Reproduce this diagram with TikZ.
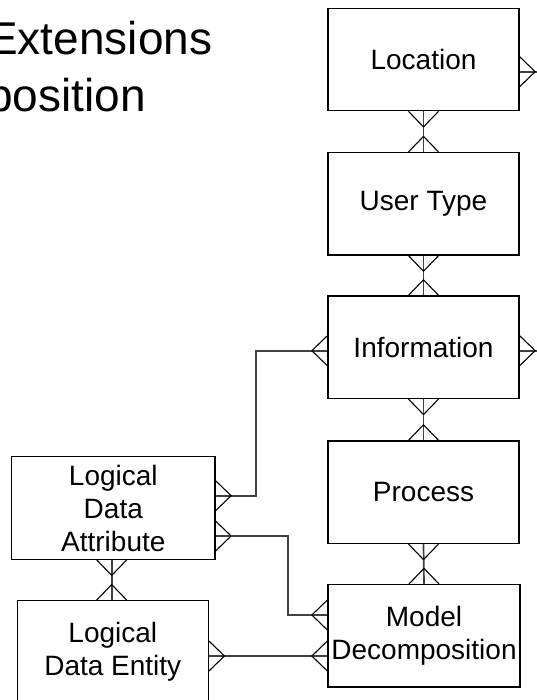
\documentclass[tikz,border=0pt]{standalone}
\usepackage{fontspec}
\setmainfont{Liberation Sans}
\usepackage{tikz}
\usetikzlibrary{calc}

\newcommand{\boxfont}{\fontsize{28}{33}\selectfont}
\newcommand{\headfont}{\fontsize{46}{57}\selectfont}

% crow's foot: #1 = point on the box edge, #2 = outward angle
\newcommand{\crowfoot}[2]{%
  \draw[foot] ($(#1)+(#2+90:15pt)$) -- ($(#1)+(#2:15.5pt)$) -- ($(#1)+(#2-90:15pt)$);}

\begin{document}
\begin{tikzpicture}[x=1pt, y=-1pt,
    entity/.style={draw, line width=1.3pt, minimum width=191pt, minimum height=102.5pt,
                   inner sep=0pt, align=center, font=\boxfont},
    link/.style={draw=black!75, line width=1.7pt},
    foot/.style={draw=black, line width=1.1pt}]

    % Page size of the slide cut-out
    \useasboundingbox (0,0) rectangle (537,700);
    \clip (0,0) rectangle (537,700);

    % Title (cut at the left edge)
    \node (ttlA) at (-13, 55) [anchor=base west, inner sep=0pt, font=\headfont] {Extensions};
    \node (ttlB) at (-13, 112) [anchor=base west, inner sep=0pt, font=\headfont] {position};

    % Right column of entities
    \node (loc) at (423.5, 59.5) [entity] {Location};
    \node (utype) at (423.5, 203.8) [entity] {User Type};
    \node (info) at (423.5, 347.2) [entity] {Information};
    \node (proc) at (423.5, 492.2) [entity] {Process};
    \node (model) at (424, 635.8) [entity, minimum width=192pt] {Model\\Decomposition};

    % Left entities
    \node (lda) at (113.3, 508) [entity, minimum width=203.3pt] {Logical\\Data\\Attribute};
    \node (lde) at (112.8, 652.2) [entity, minimum height=103pt] {Logical\\Data Entity};

    % Free ends running off to the right
    \coordinate (locout) at (548, 71.7);
    \coordinate (infoout) at (548, 350.7);

    % Vertical links of the right column
    \draw[link] (loc.south) -- (utype.north);
    \draw[link] (utype.south) -- (info.north);
    \draw[link] (info.south) -- (proc.north);
    \draw[link] (proc.south) -- (model.north);
    \crowfoot{loc.south}{-90}
    \crowfoot{utype.north}{90}
    \crowfoot{utype.south}{-90}
    \crowfoot{info.north}{90}
    \crowfoot{info.south}{-90}
    \crowfoot{proc.north}{90}
    \crowfoot{proc.south}{-90}
    \crowfoot{model.north}{90}

    % Links leaving to the right
    \draw[link] (loc.east |- locout) -- (locout);
    \crowfoot{loc.east |- locout}{0}
    \draw[link] (info.east |- infoout) -- (infoout);
    \crowfoot{info.east |- infoout}{0}

    % Logical Data Attribute to Information
    \coordinate (ldaA) at ([yshift=12.3pt]lda.east);
    \coordinate (infoL) at ([yshift=-3.5pt]info.west);
    \draw[link] (ldaA) -- ++(40.7,0) |- (infoL);
    \crowfoot{ldaA}{0}
    \crowfoot{infoL}{180}

    % Logical Data Attribute to Model Decomposition
    \coordinate (ldaB) at ([yshift=-28pt]lda.east);
    \coordinate (modelA) at ([yshift=20.8pt]model.west);
    \draw[link] (ldaB) -- ++(72.3,0) |- (modelA);
    \crowfoot{ldaB}{0}
    \crowfoot{modelA}{180}

    % Logical Data Entity to Model Decomposition
    \coordinate (modelB) at ([yshift=-20.2pt]model.west);
    \draw[link] (lde.east |- modelB) -- (modelB);
    \crowfoot{lde.east |- modelB}{0}
    \crowfoot{modelB}{180}

    % Attribute to Entity
    \coordinate (ldaC) at ([xshift=-1.6pt]lda.south);
    \draw[link] (ldaC) -- (ldaC |- lde.north);
    \crowfoot{ldaC}{-90}
    \crowfoot{ldaC |- lde.north}{90}
\end{tikzpicture}
\end{document}
